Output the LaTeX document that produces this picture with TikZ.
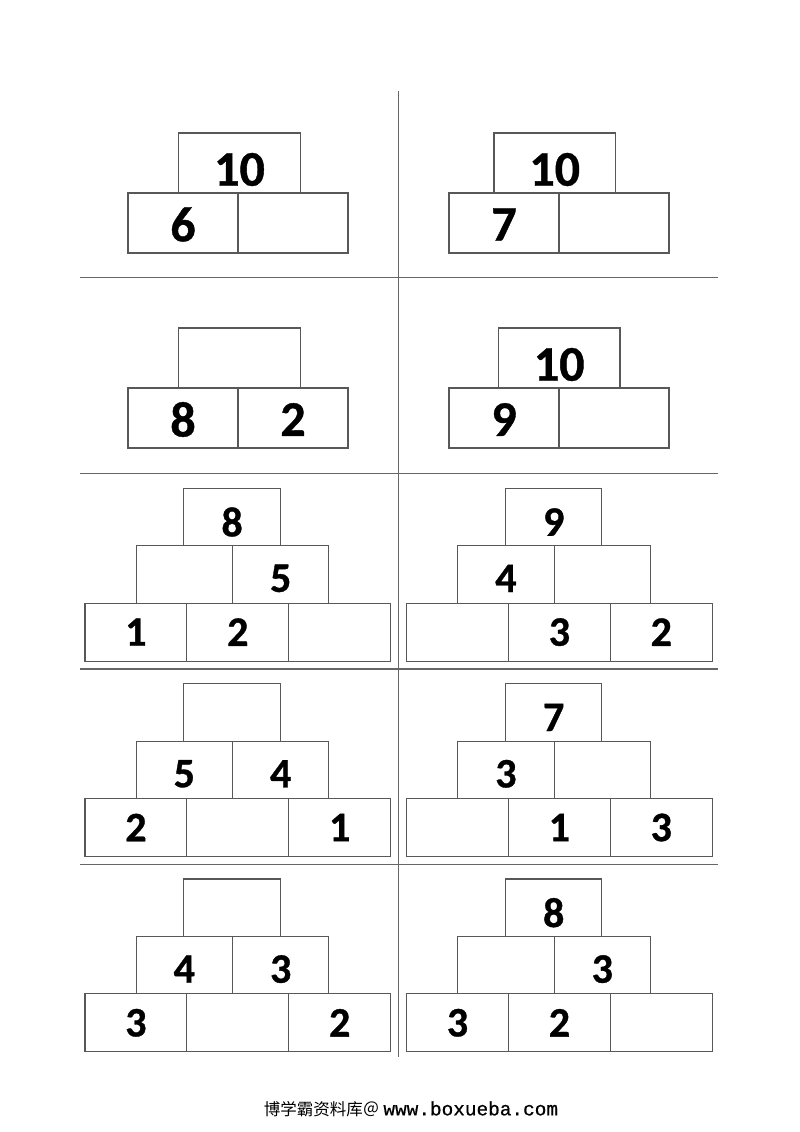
\documentclass[tikz,border=0pt]{standalone}
\usepackage{fontspec}
\setmainfont{Carlito}[BoldFeatures={FakeBold=0.8}]
\newfontfamily\cjk{Noto Sans CJK SC}
\newfontfamily\webmono{Liberation Mono}[FakeBold=0.6]
\definecolor{linegray}{HTML}{585858}
\definecolor{divgray}{HTML}{666666}
\tikzset{
  cellbase/.style={draw=linegray, line width=1.1pt, rectangle, inner sep=0pt},
  topA/.style={cellbase, minimum width=121.5pt, minimum height=60pt},
  botA/.style={cellbase, minimum width=110pt, minimum height=60pt},
  topB/.style={cellbase, minimum width=96.4pt, minimum height=57.4pt},
  midB/.style={cellbase, minimum width=96.4pt, minimum height=57.4pt},
  botB/.style={cellbase, minimum width=101.9pt, minimum height=58pt},
  numA/.style={inner sep=0pt, font=\fontsize{50}{50}\selectfont\bfseries},
  numB/.style={inner sep=0pt, font=\fontsize{42}{42}\selectfont\bfseries},
  divider/.style={draw=divgray, line width=1.3pt},
  footer/.style={inner sep=0pt, text=black}
}
% 2-level pyramid: prefix, top centre x, top y, bottom left x, top, left, right
\newcommand\pyrTwo[7]{%
  \node[topA] (#1t) at (#2, #3+30) {};
  \node[botA] (#1l) at (#4+55, #3+90) {};
  \node[botA] (#1r) at (#4+165, #3+90) {};
  \node[numA] (#1tn) at ([yshift=-6.5pt]#1t.center) {#5};
  \node[numA] (#1ln) at ([yshift=-1.5pt]#1l.center) {#6};
  \node[numA] (#1rn) at ([yshift=-1.5pt]#1r.center) {#7};
}
% 3-level pyramid: prefix, bottom left x, top y, top, m1, m2, b1, b2, b3
\newcommand\pyrThree[9]{%
  \node[topB] (#1t) at (#2+147.2, #3+28.7) {};
  \node[midB] (#1ma) at (#2+99.4, #3+86.1) {};
  \node[midB] (#1mb) at (#2+195.8, #3+86.1) {};
  \node[botB] (#1ba) at (#2+51, #3+143.8) {};
  \node[botB] (#1bb) at (#2+152.9, #3+143.8) {};
  \node[botB] (#1bc) at (#2+254.8, #3+143.8) {};
  \node[numB] (#1tn) at ([yshift=-5pt]#1t.center) {#4};
  \node[numB] (#1man) at ([yshift=-4pt]#1ma.center) {#5};
  \node[numB] (#1mbn) at ([yshift=-4pt]#1mb.center) {#6};
  \node[numB] (#1ban) at (#1ba.center) {#7};
  \node[numB] (#1bbn) at (#1bb.center) {#8};
  \node[numB] (#1bcn) at (#1bc.center) {#9};
}
\begin{document}
\begin{tikzpicture}[x=1pt,y=-1pt]
\useasboundingbox (0,0) rectangle (800,1132);
\fill[white] (0,0) rectangle (800,1132);
% dividers
\coordinate (vtop) at (398.5,91);
\coordinate (vbot) at (398.5,1057);
\draw[divider] (vtop) -- (vbot);
\foreach \yy [count=\i] in {277.5,473.3,669,864.5}{
  \coordinate (h\i a) at (80,\yy);
  \coordinate (h\i b) at (718,\yy);
  \draw[divider] (h\i a) -- (h\i b);
}
% two-level pyramids
\pyrTwo{pa}{239.5}{133}{128}{10}{6}{}
\pyrTwo{pb}{554.7}{133}{449}{10}{7}{}
\pyrTwo{pc}{239.5}{328}{128}{}{8}{2}
\pyrTwo{pd}{559.2}{328}{449}{10}{9}{}
% three-level pyramids
\pyrThree{pe}{84.9}{488.3}{8}{}{5}{1}{2}{}
\pyrThree{pf}{406.5}{488.3}{9}{4}{}{}{3}{2}
\pyrThree{pg}{84.9}{683.7}{}{5}{4}{2}{}{1}
\pyrThree{ph}{406.5}{683.7}{7}{3}{}{}{1}{3}
\pyrThree{pi}{84.9}{879}{}{4}{3}{3}{}{2}
\pyrThree{pj}{406.5}{879}{8}{}{3}{3}{2}{}
% footer
\node[footer] (foot) at (411,1109) {{\cjk\fontsize{16.5}{16.5}\selectfont 博学霸资料库＠}\hspace{4pt}{\webmono\fontsize{19.4}{19.4}\selectfont www.boxueba.com}};
\end{tikzpicture}
\end{document}
